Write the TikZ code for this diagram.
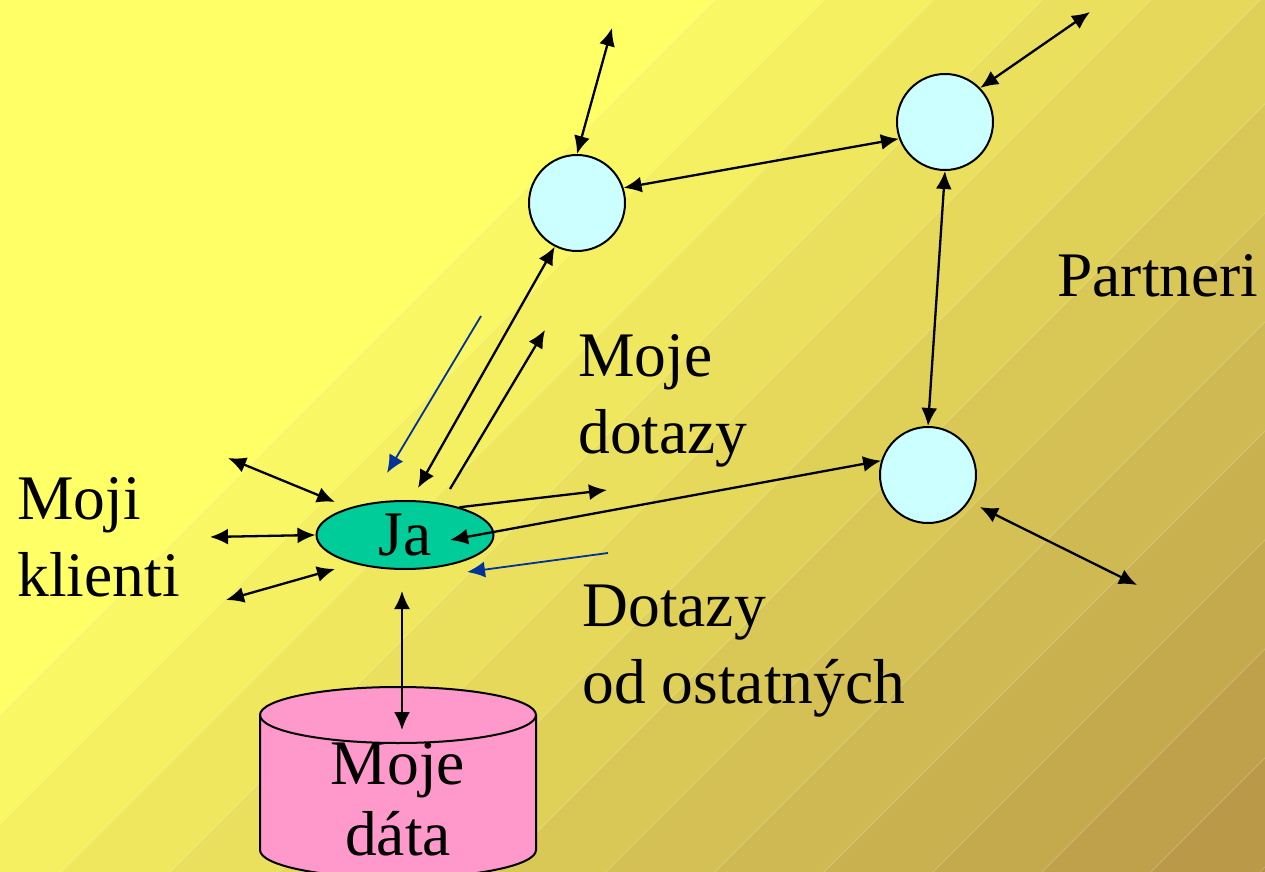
\documentclass[tikz,border=0pt]{standalone}
\usepackage{fontspec}
\setmainfont{Liberation Serif}
\usetikzlibrary{positioning,arrows.meta,calc,shapes.geometric}

\definecolor{bgtop}{RGB}{255,255,102}
\definecolor{bgbot}{RGB}{180,145,70}
\definecolor{peerfill}{RGB}{204,255,255}
\definecolor{jafill}{RGB}{0,204,153}
\definecolor{datafill}{RGB}{255,153,204}
\definecolor{askblue}{RGB}{0,51,153}

\begin{document}
\begin{tikzpicture}[x=0.5pt,y=-0.5pt,>={Latex[length=9pt,width=8pt]},
	txt/.style={font=\fontsize{31.75pt}{38.5pt}\selectfont,inner sep=0pt,align=left},
	peer/.style={circle,draw,line width=1pt,fill=peerfill,minimum size=48pt,inner sep=0pt},
	link/.style={<->,line width=1.15pt},
	oneway/.style={->,line width=1.15pt},
	ask/.style={->,askblue,line width=.9pt}]

	\useasboundingbox (0,0) rectangle (1265,872);

	% background bands
	\begin{scope}
		\clip (0,0) rectangle (1265,872);
		\fill[bgtop] (0,0) rectangle (1265,872);
		\foreach \k in {0,...,13} {
			\pgfmathtruncatemacro\c{715+109*\k}
			\pgfmathtruncatemacro\pct{100*(\k+1)/14}
			\colorlet{band}{bgbot!\pct!bgtop}
			\fill[band] (\c+3000,-3000) -- (-3000,\c+3000) -- (6000,6000) -- cycle;
			\draw[white,opacity=.2,line width=.4pt] (\c+3000,-3000) -- (-3000,\c+3000);
		}
	\end{scope}

	% peers
	\node[peer] (p1) at (577,203) {};
	\node[peer] (p2) at (945,122) {};
	\node[peer] (p3) at (928,475) {};
	\node[ellipse,draw,line width=1pt,fill=jafill,minimum width=88.5pt,
		  minimum height=34pt,txt,align=center] (ja) at (405,535) {Ja};

	% data store
	\draw[line width=1pt,fill=datafill] (260,715) -- (260,850)
		arc[start angle=180,end angle=360,x radius=69pt,y radius=14pt]
		-- (536,715) arc[start angle=0,end angle=180,x radius=69pt,y radius=14pt] -- cycle;
	\draw[line width=1pt] (260,715) arc[start angle=180,end angle=360,x radius=69pt,y radius=14pt];
	\node[txt,align=center,anchor=base] (data) at (398,855) {Moje\\[-3pt]dáta};

	\coordinate (up1) at (612,28);
	\coordinate (up2) at (1090,12);
	\coordinate (out3) at (1137,585);
	\coordinate (jaR) at (450,540);
	\coordinate (q1) at (607,490);
	\coordinate (q2) at (545,330);
	\coordinate (a1) at (481,316);
	\coordinate (a2) at (387,473);
	\coordinate (b1) at (608,553);
	\coordinate (b2) at (467,572);
	\coordinate (dtop) at (402,730);
	\coordinate (c1) at (228,458);
	\coordinate (c2) at (210,537);
	\coordinate (c3) at (226,600);

	\draw[link] (up1) -- (p1.north);
	\draw[link] (p1.18) -- (p2.200);
	\draw[link] (p2.44) -- (up2);
	\draw[link] (p2.south) -- (p3.north);
	\draw[link,shorten <=6pt] (p3.327) -- (out3);
	\draw[link] (jaR) -- (p3.163);
	\draw[oneway] (ja.27) -- (q1);
	\draw[link] (p1.243) -- ($(ja.north)+(13,-12)$);
	\draw[oneway] ($(ja.north)+(45,-11)$) -- (q2);
	\draw[ask] (a1) -- (a2);
	\draw[ask] (b1) -- (b2);
	\draw[link] ($(ja.south)+(-3,21)$) -- (dtop);
	\draw[link] (c1) -- ($(ja.center)+(-70,-33)$);
	\draw[link] (c2) -- (ja.west);
	\draw[link] (c3) -- ($(ja.center)+(-70,34)$);

	% labels
	\node[txt,anchor=base west] (clients) at (17,596) {Moji\\klienti};
	\node[txt,anchor=base west] (myq) at (578,453) {Moje\\dotazy};
	\node[txt,anchor=base west] (theirq) at (582,703) {Dotazy\\od ostatných};
	\node[txt,anchor=base west] (partners) at (1057,296) {Partneri};
\end{tikzpicture}
\end{document}
